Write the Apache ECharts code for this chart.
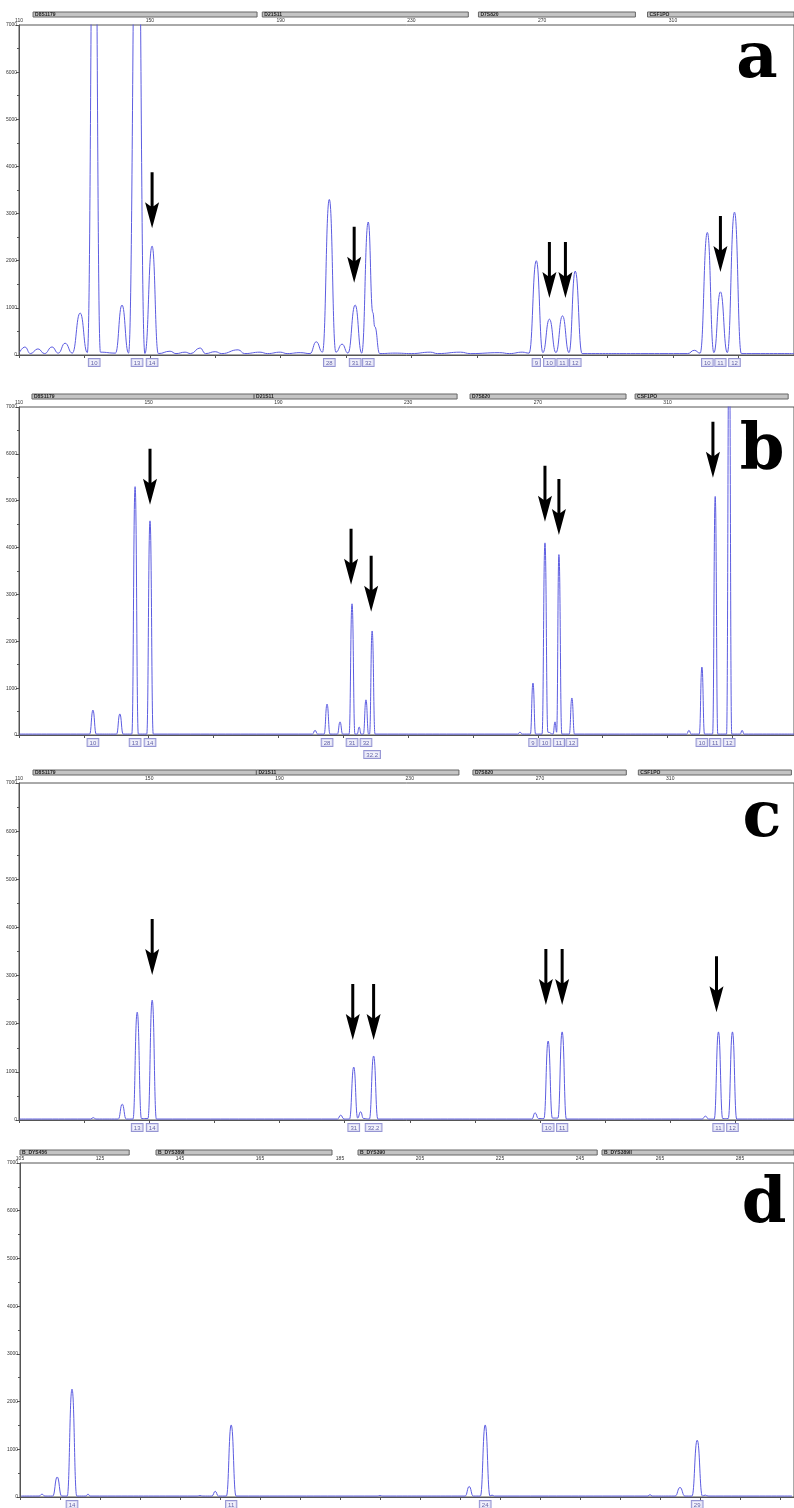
<!DOCTYPE html>
<html>
<head>
<meta charset="utf-8">
<script src="https://cdn.jsdelivr.net/npm/echarts@6/dist/echarts.min.js"></script>
<style>
  html, body { margin: 0; padding: 0; background: #fff; }
  #chart { width: 794px; height: 1508px; }
</style>
</head>
<body>
<div id="chart"></div>
<script>
// traces: [size (bp), RFU]
const traceA = [
  [110.2, 60], [111.8, 170], [113.5, 30], [115.8, 130], [117.8, 30], [120.1, 170], [122, 40],
  [124.1, 250], [126.3, 40], [128.7, 890], [130.9, 50], [133.0, 12000], [134.9, 60],
  [139.5, 40], [141.5, 1060], [143.5, 40], [146.1, 12000], [148.5, 30], [150.7, 2310],
  [152.6, 30], [156.2, 80], [158, 30], [160.8, 60], [162.5, 30], [165.4, 150], [167, 30],
  [170, 70], [172, 30], [177, 110], [179, 30], [183.7, 60], [186, 30], [189.9, 60], [192, 30],
  [196, 50], [199, 30], [200.9, 280], [202.8, 60], [204.9, 3300], [206.9, 60], [208.8, 230],
  [210.6, 40], [212.8, 1060], [214.8, 40], [216.8, 2820], [218.2, 900], [218.8, 600],
  [220.3, 30], [225, 40], [230, 30], [235.8, 60], [238, 30], [245, 60], [248, 30], [257, 50],
  [260, 30], [263.9, 60], [266, 40], [268.2, 2000], [270.2, 50], [272.2, 760], [274.2, 50],
  [276.2, 830], [278.2, 50], [280.1, 1780], [282.2, 30], [300, 30], [314.5, 30], [316.5, 100],
  [318.3, 40], [320.5, 2600], [322.5, 50], [324.5, 1340], [326.6, 50], [328.8, 3030],
  [330.9, 30], [347, 30]
];
const traceB = [
  [110.2, 20], [131.8, 20], [132.8, 530], [133.8, 20], [140.1, 20], [141.1, 450], [142.1, 20],
  [144.8, 20], [145.8, 5300], [146.8, 20], [149.4, 20], [150.4, 4570], [151.4, 20],
  [200.5, 20], [201.3, 100], [202.1, 20], [204.1, 20], [205.0, 660], [205.9, 20], [208.2, 20],
  [209.0, 280], [209.8, 20], [211.8, 20], [212.7, 2800], [213.6, 20], [214.3, 20], [214.9, 170],
  [215.5, 20], [216.2, 20], [217.0, 750], [217.8, 20], [218.1, 20], [218.9, 2220], [219.8, 20],
  [263.8, 20], [264.5, 60], [265.2, 20], [267.7, 20], [268.5, 1110], [269.3, 20], [271.3, 20],
  [272.2, 4100], [273.1, 60], [274.7, 20], [275.3, 280], [275.8, 60], [276.5, 3850], [277.4, 20],
  [279.7, 20], [280.5, 790], [281.3, 20], [315.9, 20], [316.6, 100], [317.3, 20], [319.8, 20],
  [320.6, 1450], [321.4, 20], [323.9, 20], [324.7, 5090], [325.5, 20], [328.2, 20], [329.0, 9000],
  [329.8, 20], [332.4, 20], [333.0, 100], [333.6, 20], [349, 20]
];
const traceC = [
  [110.2, 20], [132, 20], [132.8, 50], [133.6, 20], [140.5, 20], [141.7, 330], [142.9, 20],
  [145.0, 20], [146.3, 2240], [147.6, 30], [149.6, 30], [150.9, 2490], [152.2, 20],
  [207.8, 20], [208.8, 100], [209.8, 20], [211.5, 20], [212.8, 1100], [214.0, 40], [214.9, 170],
  [215.8, 30], [217.6, 20], [218.9, 1330], [220.2, 20], [267.5, 20], [268.5, 150], [269.5, 30],
  [271.2, 30], [272.5, 1640], [273.8, 40], [275.5, 40], [276.8, 1830], [278.1, 20],
  [319.8, 20], [320.8, 80], [321.8, 20], [323.5, 20], [324.8, 1830], [326.1, 30], [327.8, 30],
  [329.1, 1830], [330.4, 20], [348, 20]
];
const traceD = [
  [105.3, 20], [109.8, 20], [110.5, 60], [111.2, 20], [113.2, 20], [114.3, 420], [115.4, 20],
  [116.8, 20], [118.0, 2260], [119.2, 20], [121.5, 20], [122, 60], [122.5, 20], [149.3, 20],
  [150, 30], [150.7, 20], [153, 20], [153.8, 120], [154.6, 20], [156.6, 20], [157.8, 1510],
  [159.0, 20], [194.3, 20], [195, 30], [195.7, 20], [216.3, 20], [217.3, 220], [218.3, 20],
  [220.1, 20], [221.3, 1510], [222.5, 20], [223, 40], [223.6, 20], [262, 20], [262.5, 50],
  [263, 20], [268.8, 20], [270, 200], [271.2, 20], [273.0, 20], [274.3, 1190], [275.6, 20],
  [276.3, 40], [277, 20], [298, 20]
];

// allele calls: [size, label, row]
const allelesA = [[133.0, '10'], [146.1, '13'], [150.7, '14'], [204.9, '28'], [212.8, '31'], [216.8, '32'],
  [268.2, '9'], [272.2, '10'], [276.2, '11'], [280.1, '12'], [320.5, '10'], [324.5, '11'], [328.8, '12']];
const allelesB = [[132.8, '10'], [145.8, '13'], [150.4, '14'], [205.0, '28'], [212.7, '31'], [217.0, '32'],
  [218.9, '32.2', 1], [268.5, '9'], [272.2, '10'], [276.5, '11'], [280.5, '12'], [320.6, '10'],
  [324.7, '11'], [329.0, '12']];
const allelesC = [[146.3, '13'], [150.9, '14'], [212.8, '31'], [218.9, '32.2'], [272.5, '10'], [276.8, '11'],
  [324.8, '11'], [329.1, '12']];
const allelesD = [[118.0, '14'], [157.8, '11'], [221.3, '24'], [274.3, '29']];

// arrows: [size, RFU at arrow tip]
const arrowsA = [[150.7, 2690], [212.5, 1530], [272.2, 1210], [277.1, 1210], [324.5, 1760]];
const arrowsB = [[150.4, 4915], [212.4, 3205], [218.6, 2630], [272.2, 4550], [276.5, 4270], [324.0, 5490]];
const arrowsC = [[150.9, 3010], [212.5, 1660], [218.9, 1660], [271.8, 2390], [276.8, 2390], [324.2, 2240]];
const arrowsD = [];

// marker bins: [name, from, to]
const markersA = [['D8S1179', 114.3, 182.8], ['D21S11', 184.4, 247.4], ['D7S820', 250.5, 298.5], ['CSF1PO', 302.2, 350]];
const markersB = [['D8S1179', 114.0, 182.5], ['D21S11', 182.5, 245.1], ['D7S820', 249.1, 297.2], ['CSF1PO', 300.0, 347.2]];
const markersC = [['D8S1179', 114.3, 182.9], ['D21S11', 182.9, 245.1], ['D7S820', 249.4, 296.5], ['CSF1PO', 300.2, 347.2]];
const markersD = [['B_DYS456', 105, 132.3], ['B_DYS389I', 139, 183], ['B_DYS390', 189.5, 249.3], ['B_DYS389II', 250.5, 300]];

const panelLetters = ['a', 'b', 'c', 'd'];

const panels = [
  { trace: traceA, alleles: allelesA, arrows: arrowsA, markers: markersA, min: 110, max: 347, step: 40, left: 19, top: 25, height: 330 },
  { trace: traceB, alleles: allelesB, arrows: arrowsB, markers: markersB, min: 110, max: 349, step: 40, left: 19, top: 407, height: 328 },
  { trace: traceC, alleles: allelesC, arrows: arrowsC, markers: markersC, min: 110, max: 348, step: 40, left: 19, top: 783, height: 337 },
  { trace: traceD, alleles: allelesD, arrows: arrowsD, markers: markersD, min: 105, max: 298.5, step: 20, left: 20, top: 1163, height: 334 }
];
const letterPos = [[757, 60], [762, 451], [762, 819], [764, 1205]];

const traceColor = '#5c5ce0';
const axisColor = '#555';
const arrowPath = 'path://M5.5,0 L8.5,0 L8.5,34 L14,30 L7,56 L0,30 L5.5,34 Z';

var chart = echarts.init(document.getElementById('chart'));

var grids = [], xAxes = [], yAxes = [], series = [];
panels.forEach(function (p, i) {
  grids.push({ left: p.left, top: p.top, height: p.height, right: -2, show: true, borderColor: axisColor, borderWidth: 1 });
  xAxes.push({
    type: 'value', gridIndex: i, position: 'top', min: p.min, max: p.max, interval: p.step,
    axisLine: { show: true, lineStyle: { color: axisColor, width: 1 } },
    axisTick: { show: true, inside: true, length: 3, lineStyle: { color: axisColor } },
    minorTick: { show: true, splitNumber: 2, length: 3, lineStyle: { color: axisColor } },
    splitLine: { show: false },
    axisLabel: { fontSize: 5, color: '#333', margin: 2, showMaxLabel: false, fontFamily: 'Liberation Sans',
      formatter: function (v) { return String(v); } }
  });
  yAxes.push({
    type: 'value', gridIndex: i, min: 0, max: 7000, interval: 1000,
    axisLine: { show: true, lineStyle: { color: axisColor, width: 1 } },
    axisTick: { show: true, length: 3, lineStyle: { color: axisColor } },
    minorTick: { show: true, splitNumber: 2, length: 2, lineStyle: { color: axisColor } },
    splitLine: { show: false },
    axisLabel: { fontSize: 5, color: '#333', margin: 2, fontFamily: 'Liberation Sans',
      formatter: function (v) { return String(v); } }
  });
  series.push({
    type: 'line', xAxisIndex: i, yAxisIndex: i, data: p.trace,
    showSymbol: false, smooth: 0.5, smoothMonotone: 'x', clip: true,
    lineStyle: { color: traceColor, width: 1 }, silent: true, animation: false
  });
  series.push({
    type: 'scatter', xAxisIndex: i, yAxisIndex: i, symbolSize: 0, clip: false, animation: false,
    data: p.alleles.map(function (a) {
      return { value: [a[0], 0], name: a[1], label: { distance: a[2] ? 16 : 4 } };
    }),
    label: {
      show: true, position: 'bottom', formatter: '{b}', fontSize: 6, color: '#3a3a90',
      backgroundColor: '#eeeefa', borderColor: '#7a7ac8', borderWidth: 1, padding: [1, 2, 0, 2],
      fontFamily: 'Liberation Sans'
    }
  });
  series.push({
    type: 'scatter', xAxisIndex: i, yAxisIndex: i, clip: false, animation: false, z: 5,
    symbol: arrowPath, symbolSize: [14, 56], symbolOffset: [0, '-50%'],
    itemStyle: { color: '#000', opacity: 1 }, data: p.arrows
  });
});

var graphics = panelLetters.map(function (t, i) {
  return {
    type: 'text', x: letterPos[i][0], y: letterPos[i][1],
    style: { text: t, fontSize: 64, fontWeight: 'bold', fontFamily: 'DejaVu Serif', fill: '#000',
      textAlign: 'center', textVerticalAlign: 'middle' }
  };
});

chart.setOption({
  animation: false,
  grid: grids, xAxis: xAxes, yAxis: yAxes, series: series, graphic: graphics
});

// marker bins above each panel, placed through the x scale
panels.forEach(function (p, i) {
  p.markers.forEach(function (m) {
    var x0 = chart.convertToPixel({ xAxisIndex: i }, m[1]);
    var x1 = Math.min(chart.convertToPixel({ xAxisIndex: i }, m[2]), 794);
    graphics.push({
      type: 'rect', shape: { x: x0, y: p.top - 13, width: x1 - x0, height: 5 },
      style: { fill: '#c4c4c4', stroke: '#666', lineWidth: 1 }
    });
    graphics.push({
      type: 'text', x: x0 + 2, y: p.top - 13,
      style: { text: m[0], font: 'bold 5px "Liberation Sans"', fill: '#222' }
    });
  });
});
chart.setOption({ graphic: graphics });
</script>
</body>
</html>
